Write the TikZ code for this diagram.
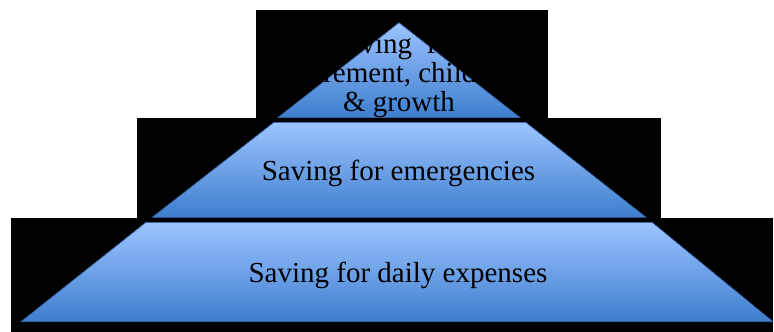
\documentclass[tikz,border=0pt]{standalone}
\usepackage{fontspec}
\setmainfont{Liberation Serif}
\definecolor{tiertop}{RGB}{156,196,255}
\definecolor{tierbot}{RGB}{62,126,206}
\definecolor{tieredge}{RGB}{52,98,165}
\begin{document}
\begin{tikzpicture}[x=1pt,y=-1pt,
  tier/.style={top color=tiertop,bottom color=tierbot,draw=tieredge,line width=0.6pt,line join=miter},
  backbox/.style={fill=black},
  lbl/.style={font=\fontsize{29}{29}\selectfont,inner sep=0pt,anchor=base,text=black}]
\useasboundingbox (0,0) rectangle (774,332);
% black boxes behind the tiers
\fill[backbox] (256,10) rectangle (548,117.7);
\fill[backbox] (137,117.7) rectangle (661,217.7);
\fill[backbox] (11,217.7) rectangle (773,332);
% tiers
\path[tier] (399,22.7) -- (520,117.5) -- (278,117.5) -- cycle;
\path[tier] (274,122.3) -- (525.7,122.3) -- (646,217.3) -- (152.3,217.3) -- cycle;
\path[tier] (146,222.3) -- (652,222.3) -- (773,321.7) -- (21,321.7) -- cycle;
% labels
\node[lbl] (topA) at (396,53) {Saving\ \ for};
\node[lbl] (topB) at (399,82.5) {retirement, children};
\node[lbl] (topC) at (399,111) {\& growth};
\node[lbl] (mid) at (398.5,180) {Saving for emergencies};
\node[lbl] (bot) at (398,282) {Saving for daily expenses};
\end{tikzpicture}
\end{document}
